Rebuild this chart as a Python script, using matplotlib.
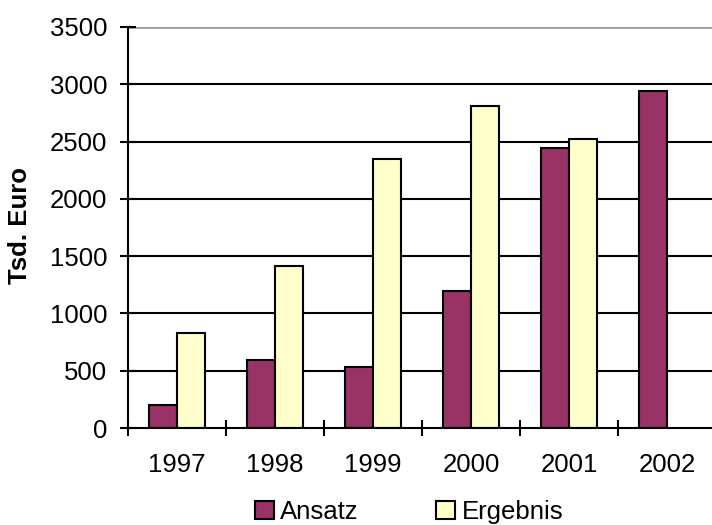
import numpy as np
import matplotlib
matplotlib.use("Agg")
import matplotlib.pyplot as plt
from matplotlib.patches import Patch

plt.rcParams['font.family'] = ['Liberation Sans', 'DejaVu Sans']

years = ['1997', '1998', '1999', '2000', '2001', '2002']
ansatz = [200, 590, 530, 1200, 2440, 2940]
ergebnis = [830, 1410, 2350, 2810, 2520, np.nan]

fs = 18.5

fig = plt.figure(figsize=(7.12, 5.25), dpi=100)
ax = fig.add_axes([128 / 712, 1 - 428 / 525, 588 / 712, 401 / 525])

x = np.arange(len(years))
w = 0.285
ax.bar(x - w / 2, ansatz, w, color='#993366', edgecolor='black', linewidth=1.5,
       label='Ansatz', zorder=3)
ax.bar(x + w / 2, ergebnis, w, color='#FFFFCC', edgecolor='black', linewidth=1.5,
       label='Ergebnis', zorder=3)

ax.set_xlim(-0.5, len(years) - 0.5)
ax.set_ylim(0, 3500)
ax.set_yticks(np.arange(0, 3501, 500))
for yv in np.arange(500, 3001, 500):
    ax.axhline(yv, color='black', linewidth=1.5, zorder=1)
ax.axhline(3500, color='#999999', linewidth=2, zorder=1)

for s in ['top', 'right']:
    ax.spines[s].set_visible(False)
for s in ['left', 'bottom']:
    ax.spines[s].set_linewidth(1.5)
    ax.spines[s].set_zorder(4)

ax.set_xticks(np.arange(-0.5, len(years), 1))
ax.set_xticklabels([])
ax.set_xticks(x, minor=True)
ax.set_xticklabels(years, minor=True)
ax.tick_params(axis='x', which='major', direction='inout', length=12, width=1.5)
ax.tick_params(axis='x', which='minor', length=0, pad=18, labelsize=fs)
ax.tick_params(axis='y', direction='inout', length=12, width=1.5, labelsize=fs, pad=9)

fig.text(20 / 712, 1 - 226 / 525, 'Tsd. Euro', rotation=90, fontsize=fs,
         fontweight='bold', ha='center', va='center')

handles = [Patch(facecolor='#993366', edgecolor='black', linewidth=1.5),
           Patch(facecolor='#FFFFCC', edgecolor='black', linewidth=1.5)]
fig.legend(handles, ['Ansatz', 'Ergebnis'], loc='center', ncol=2,
           bbox_to_anchor=(409 / 712, 1 - 512 / 525), frameon=False,
           fontsize=fs, handlelength=0.75, handleheight=0.75, handletextpad=0.25,
           columnspacing=3.0)

fig.savefig('out.png', dpi=100)
